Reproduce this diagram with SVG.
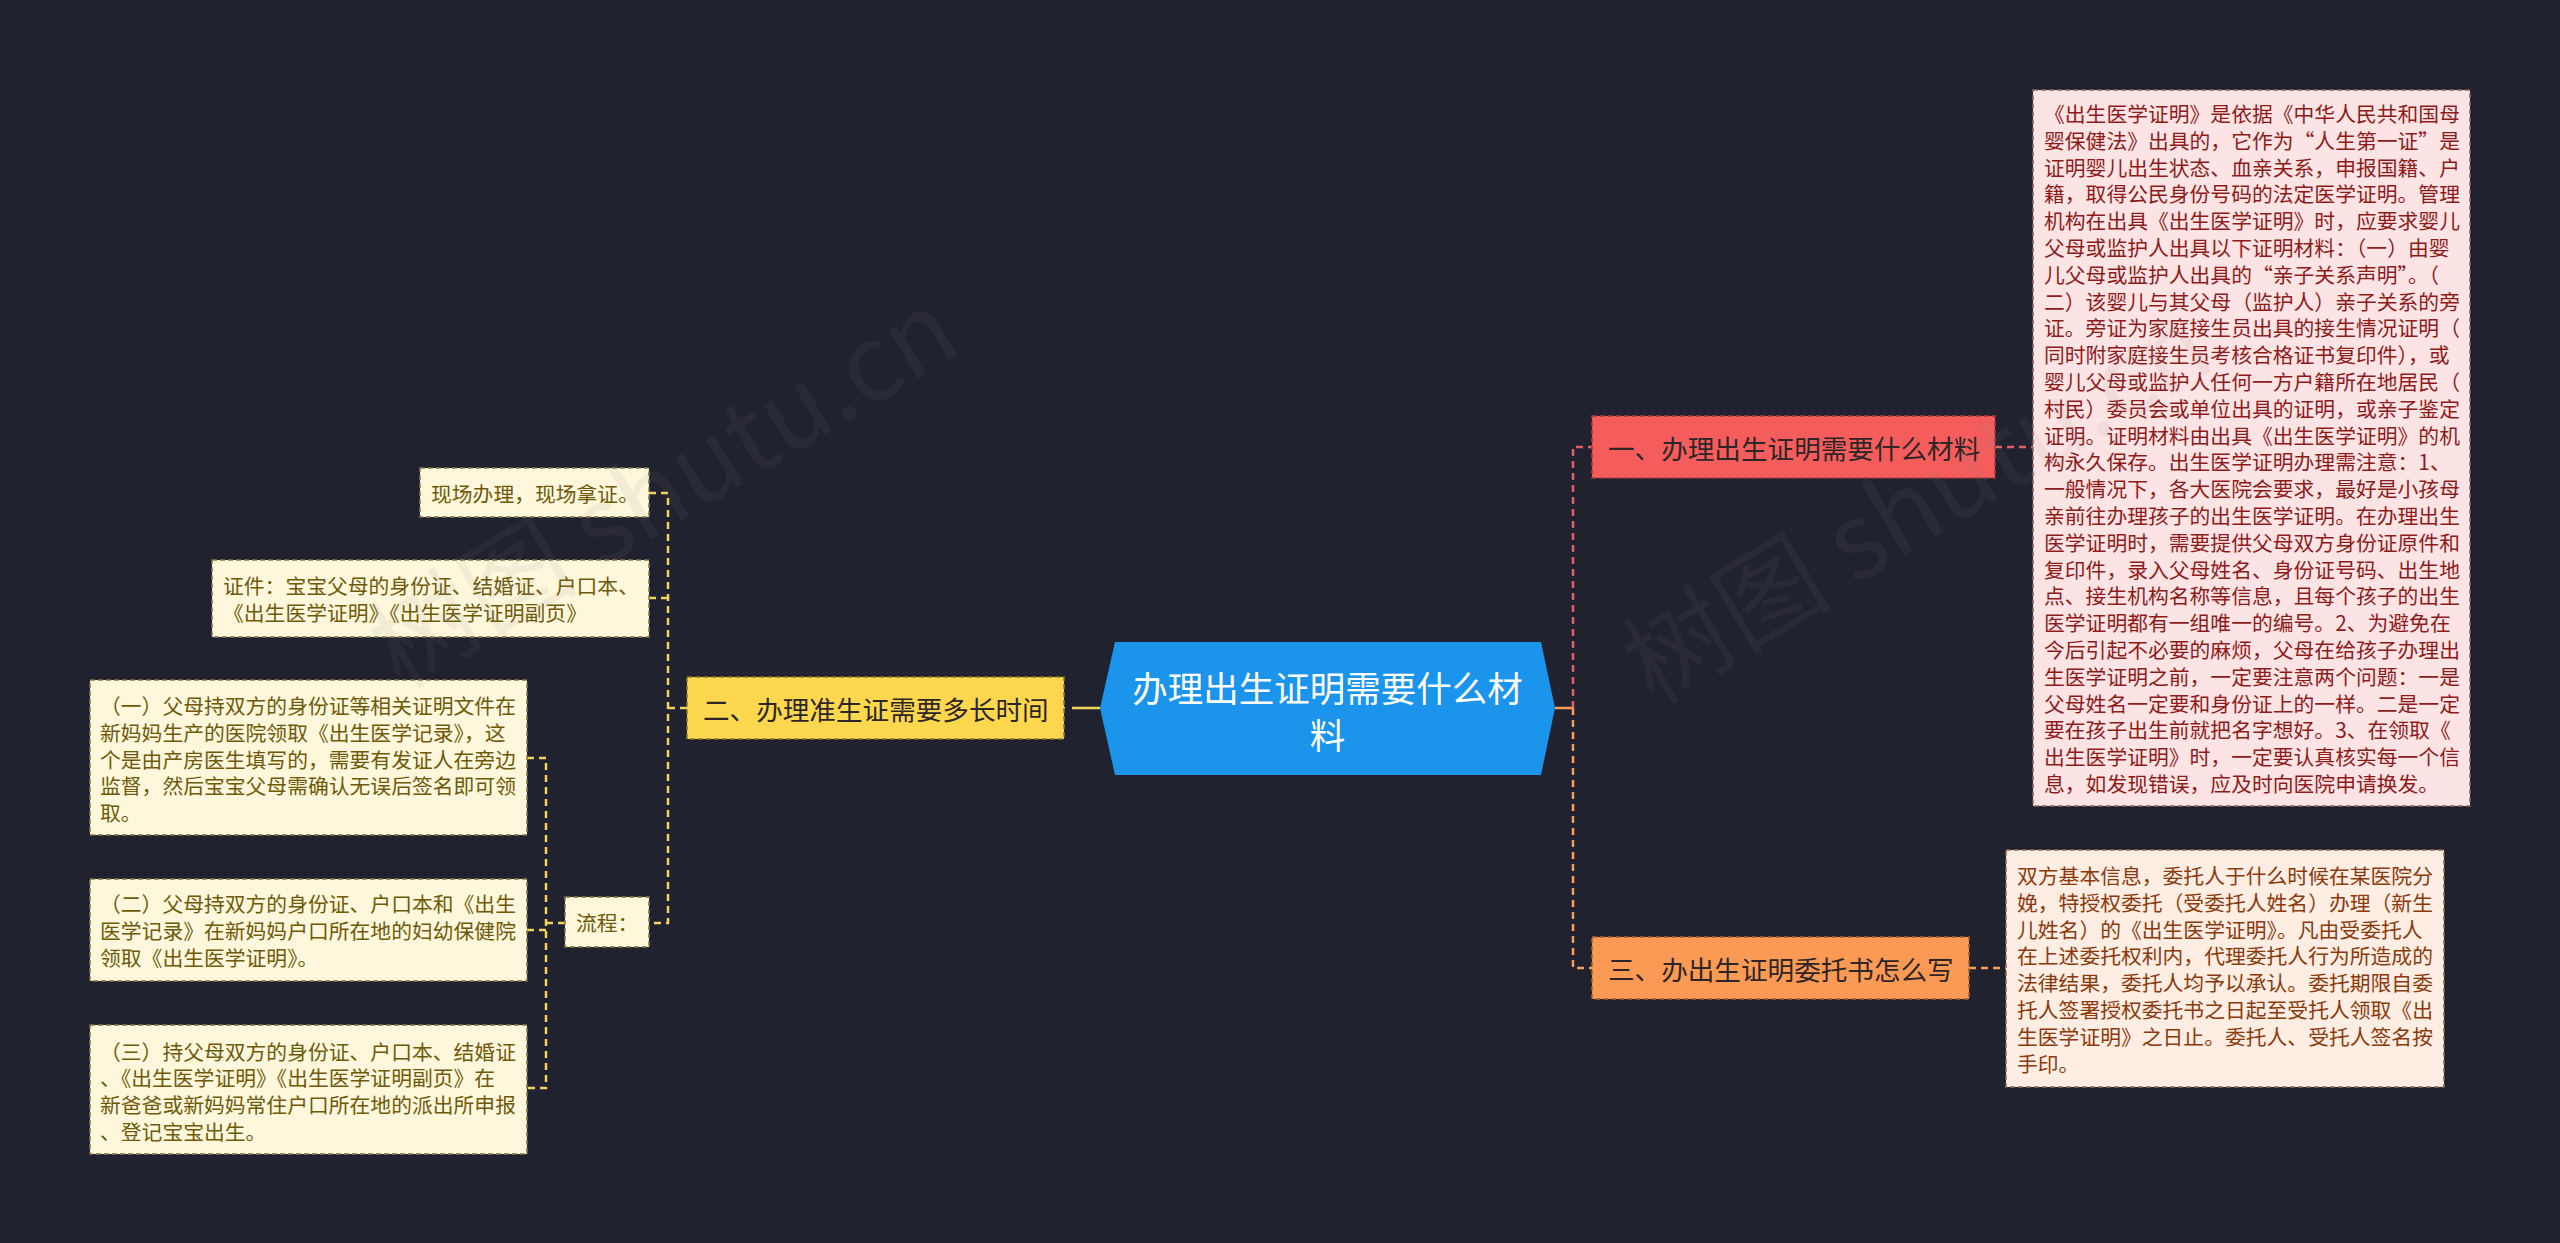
<svg xmlns="http://www.w3.org/2000/svg" width="2560" height="1243" viewBox="0 0 2560 1243">
<style>
text{font-family:"Noto Sans CJK SC","Noto Sans",sans-serif;dominant-baseline:central}
.lf{font-size:20.8px}
.bf{font-size:26.6px;fill:#2e2626}
.cf{font-size:35.5px;fill:#ffffff}
.nb{stroke-width:1.5;stroke-dasharray:5 3}
.cn{fill:none;stroke-width:2.5;stroke-dasharray:7 5}
.pink{fill:#FDE4E4;stroke:#8a6464}
.peach{fill:#FEEDE2;stroke:#8a6a52}
.cream{fill:#FEF7DC;stroke:#857544}
.tpink{fill:#8E1B1B}
.tpeach{fill:#8A3A0C}
.tcream{fill:#6E5A0A}
.wm{font-size:105px;fill:#8a8a8a;fill-opacity:0.09;dominant-baseline:alphabetic}
</style>
<rect width="2560" height="1243" fill="#20222F"/>

<g id="connectors">
  <path d="M1100,708 H1064" fill="none" stroke="#F2D35C" stroke-width="2.5" stroke-dasharray="28 7"/>
  <path class="cn" stroke="#F2D35C" d="M687,708 H668"/>
  <path class="cn" stroke="#F2D35C" d="M649,493 H668 V923 H649"/>
  <path class="cn" stroke="#F2D35C" d="M668,598 H649"/>
  <path class="cn" stroke="#F2D35C" d="M565,923 H546"/>
  <path class="cn" stroke="#F2D35C" d="M527,758 H546 V1088 H527"/>
  <path class="cn" stroke="#F2D35C" d="M546,930 H527"/>
  <path d="M1555,708 H1573" fill="none" stroke="#F5A05A" stroke-width="2.5"/>
  <path class="cn" stroke="#E0606A" d="M1573,708 V447 H1592"/>
  <path class="cn" stroke="#F5A05A" d="M1573,708 V968 H1592"/>
  <path class="cn" stroke="#E0606A" d="M1995,447 H2033"/>
  <path class="cn" stroke="#F5A05A" d="M1969,968 H2006"/>
</g>

<g id="root">
  <polygon points="1100,708 1115,642 1541,642 1555,708 1541,775 1115,775" fill="#1B94EC"/>
  <text class="cf" x="1327.5" y="686" text-anchor="middle">办理出生证明需要什么材</text>
  <text class="cf" x="1327.5" y="733" text-anchor="middle">料</text>
</g>

<g id="branch1">
  <rect class="nb" x="1592" y="416" width="403" height="62" fill="#F55D5D" stroke="#a83a3a"/>
  <text class="bf" x="1608" y="447">一、办理出生证明需要什么材料</text>
</g>

<g id="branch2">
  <rect class="nb" x="687" y="677" width="377" height="62" fill="#FDD84E" stroke="#8f7a26"/>
  <text class="bf" x="703" y="708">二、办理准生证需要多长时间</text>
</g>

<g id="branch3">
  <rect class="nb" x="1592" y="937" width="377" height="62" fill="#FB9A55" stroke="#a8602a"/>
  <text class="bf" x="1608" y="968">三、办出生证明委托书怎么写</text>
</g>

<g id="detail1">
  <rect class="nb pink" x="2033" y="90" width="437" height="716"/>
  <g class="lf tpink">
    <text x="2044" y="113">《出生医学证明》是依据《中华人民共和国母</text>
    <text x="2044" y="139.8">婴保健法》出具的，它作为“人生第一证”是</text>
    <text x="2044" y="166.6">证明婴儿出生状态、血亲关系，申报国籍、户</text>
    <text x="2044" y="193.4">籍，取得公民身份号码的法定医学证明。管理</text>
    <text x="2044" y="220.2">机构在出具《出生医学证明》时，应要求婴儿</text>
    <text x="2044" y="247">父母或监护人出具以下证明材料：（一）由婴</text>
    <text x="2044" y="273.8">儿父母或监护人出具的“亲子关系声明”。（</text>
    <text x="2044" y="300.6">二）该婴儿与其父母（监护人）亲子关系的旁</text>
    <text x="2044" y="327.4">证。旁证为家庭接生员出具的接生情况证明（</text>
    <text x="2044" y="354.2">同时附家庭接生员考核合格证书复印件），或</text>
    <text x="2044" y="381">婴儿父母或监护人任何一方户籍所在地居民（</text>
    <text x="2044" y="407.8">村民）委员会或单位出具的证明，或亲子鉴定</text>
    <text x="2044" y="434.6">证明。证明材料由出具《出生医学证明》的机</text>
    <text x="2044" y="461.4">构永久保存。出生医学证明办理需注意：1、</text>
    <text x="2044" y="488.2">一般情况下，各大医院会要求，最好是小孩母</text>
    <text x="2044" y="515">亲前往办理孩子的出生医学证明。在办理出生</text>
    <text x="2044" y="541.8">医学证明时，需要提供父母双方身份证原件和</text>
    <text x="2044" y="568.6">复印件，录入父母姓名、身份证号码、出生地</text>
    <text x="2044" y="595.4">点、接生机构名称等信息，且每个孩子的出生</text>
    <text x="2044" y="622.2">医学证明都有一组唯一的编号。2、为避免在</text>
    <text x="2044" y="649">今后引起不必要的麻烦，父母在给孩子办理出</text>
    <text x="2044" y="675.8">生医学证明之前，一定要注意两个问题：一是</text>
    <text x="2044" y="702.6">父母姓名一定要和身份证上的一样。二是一定</text>
    <text x="2044" y="729.4">要在孩子出生前就把名字想好。3、在领取《</text>
    <text x="2044" y="756.2">出生医学证明》时，一定要认真核实每一个信</text>
    <text x="2044" y="783">息，如发现错误，应及时向医院申请换发。</text>
  </g>
</g>

<g id="detail3">
  <rect class="nb peach" x="2006" y="850" width="438" height="237"/>
  <g class="lf tpeach">
    <text x="2017" y="875">双方基本信息，委托人于什么时候在某医院分</text>
    <text x="2017" y="901.8">娩，特授权委托（受委托人姓名）办理（新生</text>
    <text x="2017" y="928.6">儿姓名）的《出生医学证明》。凡由受委托人</text>
    <text x="2017" y="955.4">在上述委托权利内，代理委托人行为所造成的</text>
    <text x="2017" y="982.2">法律结果，委托人均予以承认。委托期限自委</text>
    <text x="2017" y="1009">托人签署授权委托书之日起至受托人领取《出</text>
    <text x="2017" y="1035.8">生医学证明》之日止。委托人、受托人签名按</text>
    <text x="2017" y="1062.6">手印。</text>
  </g>
</g>

<g id="onsite">
  <rect class="nb cream" x="420" y="468" width="229" height="49"/>
  <text class="lf tcream" x="431" y="492.5">现场办理，现场拿证。</text>
</g>

<g id="documents">
  <rect class="nb cream" x="212" y="560" width="437" height="77"/>
  <g class="lf tcream">
    <text x="223" y="585.1">证件：宝宝父母的身份证、结婚证、户口本、</text>
    <text x="223" y="611.9">《出生医学证明》《出生医学证明副页》</text>
  </g>
</g>

<g id="process">
  <rect class="nb cream" x="565" y="897" width="84" height="50"/>
  <text class="lf tcream" x="576" y="922">流程：</text>
</g>

<g id="step1">
  <rect class="nb cream" x="90" y="680" width="437" height="155"/>
  <g class="lf tcream">
    <text x="100" y="705">（一）父母持双方的身份证等相关证明文件在</text>
    <text x="100" y="731.8">新妈妈生产的医院领取《出生医学记录》，这</text>
    <text x="100" y="758.6">个是由产房医生填写的，需要有发证人在旁边</text>
    <text x="100" y="785.4">监督，然后宝宝父母需确认无误后签名即可领</text>
    <text x="100" y="812.2">取。</text>
  </g>
</g>

<g id="step2">
  <rect class="nb cream" x="90" y="879" width="437" height="102"/>
  <g class="lf tcream">
    <text x="100" y="903.2">（二）父母持双方的身份证、户口本和《出生</text>
    <text x="100" y="930">医学记录》在新妈妈户口所在地的妇幼保健院</text>
    <text x="100" y="956.8">领取《出生医学证明》。</text>
  </g>
</g>

<g id="step3">
  <rect class="nb cream" x="90" y="1025" width="437" height="129"/>
  <g class="lf tcream">
    <text x="100" y="1050.5">（三）持父母双方的身份证、户口本、结婚证</text>
    <text x="100" y="1077.3">、《出生医学证明》《出生医学证明副页》在</text>
    <text x="100" y="1104.1">新爸爸或新妈妈常住户口所在地的派出所申报</text>
    <text x="100" y="1130.9">、登记宝宝出生。</text>
  </g>
</g>

<g id="watermarks">
  <text class="wm" transform="translate(400,690) rotate(-31)">树图 shutu.cn</text>
  <text class="wm" transform="translate(1654,706) rotate(-31)">树图 shutu.cn</text>
</g>
</svg>
